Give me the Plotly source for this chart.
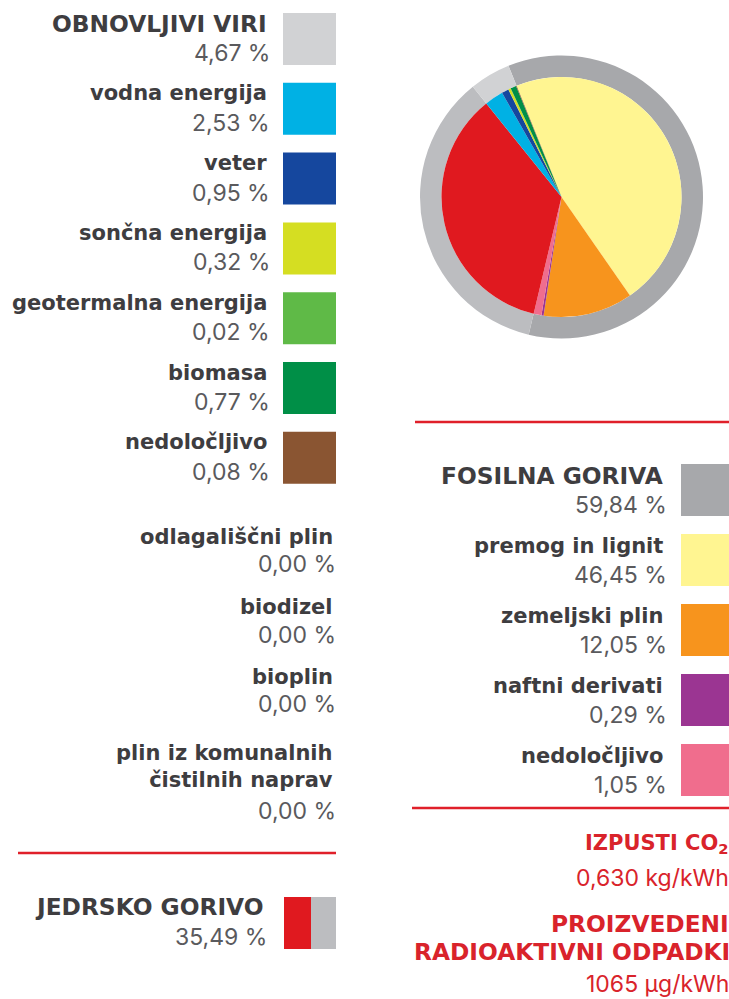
import plotly.graph_objects as go

W, H = 729, 999

# ---- data ----
main_groups = ["FOSILNA GORIVA", "JEDRSKO GORIVO", "OBNOVLJIVI VIRI"]
main_values = [59.84, 35.49, 4.67]
main_colors = ["#a7a8ab", "#bcbdc0", "#d1d2d4"]

fossil_labels = ["premog in lignit", "zemeljski plin", "naftni derivati", "nedoločljivo"]
fossil_values = [46.45, 12.05, 0.29, 1.05]
fossil_colors = ["#fff591", "#f7941d", "#9b3592", "#f06d8d"]

nuclear_label = "JEDRSKO GORIVO"
nuclear_value = 35.49
nuclear_color = "#e0191f"

renew_labels = ["vodna energija", "veter", "sončna energija", "geotermalna energija", "biomasa", "nedoločljivo"]
renew_values = [2.53, 0.95, 0.32, 0.02, 0.77, 0.08]
renew_colors = ["#00b1e4", "#15479e", "#d5de22", "#5fba47", "#008f47", "#8a5532"]

other_labels = ["odlagališčni plin", "biodizel", "bioplin", "plin iz komunalnih<br>čistilnih naprav"]
other_values = [0.00, 0.00, 0.00, 0.00]

co2_value = "0,630 kg/kWh"
waste_value = "1065 µg/kWh"

# ---- helpers ----
def fx(x):
    return x / W

def fy(y):
    return 1 - y / H

def pct(v):
    return f"{v:.2f}".replace(".", ",") + " %"

FONT_B = "DejaVu Sans"
FONT_R = "Inter"
C_TITLE = "#3e3d40"
C_NUM = "#5a5a5d"
C_RED = "#d9232b"

fig = go.Figure()

# outer ring
cx, cy, r_out, r_in = 561.5, 197, 141.5, 120
fig.add_trace(go.Pie(
    labels=main_groups, values=main_values, sort=False, direction="clockwise",
    rotation=-22, hole=r_in / r_out, marker=dict(colors=main_colors, line=dict(width=0)),
    textinfo="none", hoverinfo="skip", showlegend=False,
    domain=dict(x=[fx(cx - r_out), fx(cx + r_out)], y=[fy(cy + r_out), fy(cy - r_out)]),
))

# inner pie
inner_labels = fossil_labels + [nuclear_label] + [l + " " for l in renew_labels]
inner_values = fossil_values + [nuclear_value] + renew_values
inner_colors = fossil_colors + [nuclear_color] + renew_colors
fig.add_trace(go.Pie(
    labels=inner_labels, values=inner_values, sort=False, direction="clockwise",
    rotation=-22, marker=dict(colors=inner_colors, line=dict(width=0)),
    textinfo="none", hoverinfo="skip", showlegend=False,
    domain=dict(x=[fx(cx - r_in), fx(cx + r_in)], y=[fy(cy + r_in), fy(cy - r_in)]),
))

annotations = []
shapes = []

def text(x, y, s, color=C_TITLE, bold=False, xanchor="right"):
    size = 23
    if bold:
        size = 23.3 if s.upper() == s else 21
    else:
        x = x + 3
    annotations.append(dict(
        x=fx(x), y=fy(y), xref="paper", yref="paper", text=(f"<b>{s}</b>" if bold else s),
        showarrow=False, xanchor=xanchor, yanchor="middle", align="right",
        font=dict(family=FONT_B if bold else FONT_R, size=size, color=color),
    ))

def box(x0, y0, x1, y1, color):
    shapes.append(dict(type="rect", xref="paper", yref="paper",
                       x0=fx(x0), x1=fx(x1), y0=fy(y1), y1=fy(y0),
                       fillcolor=color, line=dict(width=0), layer="above"))

def hline(x0, x1, y, color="#e0202a"):
    shapes.append(dict(type="line", xref="paper", yref="paper",
                       x0=fx(x0), x1=fx(x1), y0=fy(y), y1=fy(y),
                       line=dict(color=color, width=2.5)))

# left column
left_titles = ["OBNOVLJIVI VIRI"] + renew_labels
left_vals = [main_values[2]] + renew_values
left_cols = [main_colors[2]] + renew_colors
for i, (t, v, c) in enumerate(zip(left_titles, left_vals, left_cols)):
    top = 13 + 69.8 * i
    text(269, top + 10.5, t, bold=True)
    text(269, top + 40, pct(v), color=C_NUM)
    box(283, top, 336, top + 52, c)

# other (zero) sources
other_ys = [(537, 564), (607, 635), (677, 704)]
for (t, v, (y1, y2)) in zip(other_labels[:3], other_values[:3], other_ys):
    text(335, y1, t, bold=True)
    text(335, y2, pct(v), color=C_NUM)
text(335, 766, other_labels[3], bold=True)
text(335, 811, pct(other_values[3]), color=C_NUM)

hline(18, 336, 853)

# nuclear
text(266, 906, nuclear_label, bold=True)
text(266, 937, pct(nuclear_value), color=C_NUM)
box(284, 897, 311, 949, nuclear_color)
box(311, 897, 336, 949, main_colors[1])

# right column
hline(415, W, 422)
right_titles = ["FOSILNA GORIVA"] + fossil_labels
right_vals = [main_values[0]] + fossil_values
right_cols = [main_colors[0]] + fossil_colors
for i, (t, v, c) in enumerate(zip(right_titles, right_vals, right_cols)):
    top = 464 + 70 * i
    text(665, top + 12, t, bold=True)
    text(666, top + 41, pct(v), color=C_NUM)
    box(681, top, W + 2, top + 52, c)

hline(412, W, 808)

text(731, 844, "IZPUSTI CO<sub>2</sub>", color=C_RED, bold=True)
text(728, 878, co2_value, color=C_RED)
text(731, 923, "PROIZVEDENI", color=C_RED, bold=True)
text(732, 951, "RADIOAKTIVNI ODPADKI", color=C_RED, bold=True)
text(728, 984, waste_value, color=C_RED)

fig.update_layout(
    width=W, height=H, margin=dict(l=0, r=0, t=0, b=0),
    paper_bgcolor="white", plot_bgcolor="white",
    annotations=annotations, shapes=shapes, showlegend=False,
)
fig.write_html("out.html", config={"displayModeBar": False},
               post_script="document.body.style.margin='0';document.body.style.overflow='hidden';")
